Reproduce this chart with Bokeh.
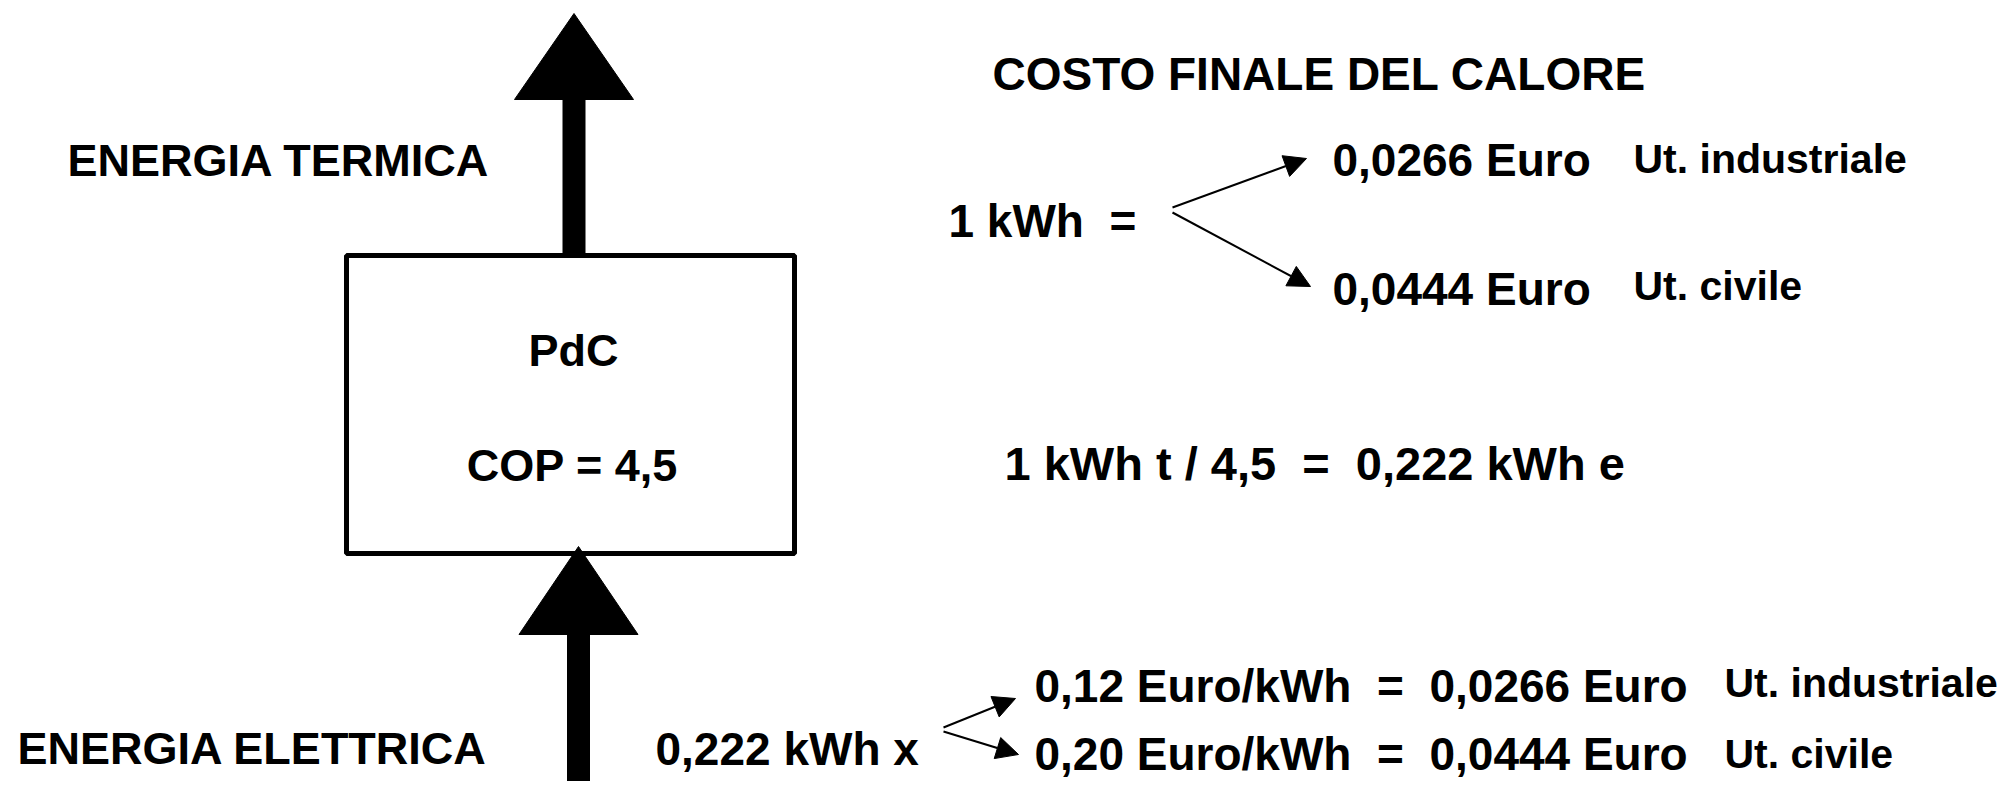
from bokeh.plotting import figure
from bokeh.models import Arrow, NormalHead, Range1d
from bokeh.core.properties import value
from bokeh.embed import file_html
from bokeh.resources import INLINE

NB = "\u00a0"  # keeps the double spaces of the original

# ---- texts (data) ----
left_labels = ["ENERGIA TERMICA", "ENERGIA ELETTRICA"]
box_labels = ["PdC", "COP = 4,5"]
main_texts = ["COSTO FINALE DEL CALORE",
              "1 kWh " + NB + "=",
              "0,0266 Euro",
              "0,0444 Euro",
              "1 kWh t / 4,5 " + NB + "= " + NB + "0,222 kWh e",
              "0,222 kWh x",
              "0,12 Euro/kWh " + NB + "= " + NB + "0,0266 Euro",
              "0,20 Euro/kWh " + NB + "= " + NB + "0,0444 Euro"]
user_texts = ["Ut. industriale", "Ut. civile", "Ut. industriale", "Ut. civile"]

# ---- layout (pixel coordinates of the diagram) ----
W, H = 1997, 781
left_x = [67, 17]
left_y = [160, 748]
box_x = [573, 572]
box_y = [350, 465]
main_x = [992, 948, 1332, 1332, 1004, 655, 1034, 1034]
main_y = [73, 220, 159, 288, 463, 748, 685, 753]
main_size = ["46px", "46px", "46px", "46px", "47px", "46px", "46px", "46px"]
user_x = [1633, 1633, 1724, 1724]
user_y = [158, 285, 682, 753]

box = dict(left=346, right=794, top=255, bottom=553)
# big arrows: (centre x, tip y, head base y, shaft end y)
big_arrows = [(573.5, 13, 99, 255), (578, 546, 634, 790)]
head_half = 59.5
shaft_half = 11.5
thin_arrows = [((1172, 207), (1306, 158)), ((1172, 212), (1310, 286)),
               ((943, 727), (1015, 698)), ((943, 731), (1018, 754))]

FONT = value("Liberation Sans")

p = figure(width=W, height=H, output_backend="svg", toolbar_location=None,
           x_range=Range1d(0, W), y_range=Range1d(H, 0),
           min_border=0)
p.axis.visible = False
p.grid.visible = False
p.outline_line_color = None
p.background_fill_color = "white"
p.border_fill_color = "white"

# box
p.quad(left=[box["left"]], right=[box["right"]], top=[box["top"]], bottom=[box["bottom"]],
       fill_color=None, line_color="black", line_width=5)

# big arrows
for cx, tip, base, end in big_arrows:
    p.quad(left=[cx - shaft_half], right=[cx + shaft_half], top=[base - 2], bottom=[end],
           fill_color="black", line_color=None)
    p.patch([cx - head_half, cx, cx + head_half], [base, tip, base],
            fill_color="black", line_color="black", line_width=1)

# thin arrows
for (x0, y0), (x1, y1) in thin_arrows:
    p.add_layout(Arrow(x_start=x0, y_start=y0, x_end=x1, y_end=y1,
                       line_width=2, line_color="black",
                       end=NormalHead(size=22, fill_color="black", line_color="black", line_width=1)))

p.text(x=left_x, y=left_y, text=left_labels, text_font=FONT, text_font_style="bold",
       text_font_size="45px", text_baseline="middle", text_align="left", text_color="black")
p.text(x=box_x, y=box_y, text=box_labels, text_font=FONT, text_font_style="bold",
       text_font_size="45px", text_baseline="middle", text_align="center", text_color="black")
p.text(x="x", y="y", text="t", text_font_size="s",
       source=dict(x=main_x, y=main_y, t=main_texts, s=main_size),
       text_font=FONT, text_font_style="bold",
       text_baseline="middle", text_align="left", text_color="black")
p.text(x=user_x, y=user_y, text=user_texts, text_font=FONT, text_font_style="bold",
       text_font_size="41px", text_baseline="middle", text_align="left", text_color="black")

open("out.html", "w").write(file_html(p, INLINE))
